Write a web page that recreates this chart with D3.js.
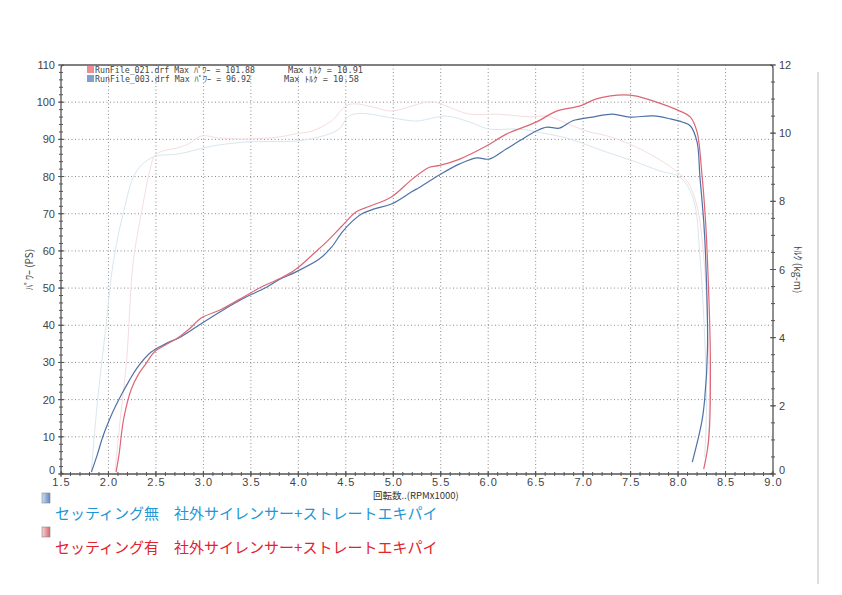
<!DOCTYPE html>
<html><head><meta charset="utf-8">
<script src="https://cdn.jsdelivr.net/npm/d3@7/dist/d3.min.js"></script>
<style>body{margin:0;background:#fff}svg{display:block}</style>
</head><body><svg id="c" width="842" height="595"></svg>
<script>
// ---- data ----
const xTicks = [1.5,2.0,2.5,3.0,3.5,4.0,4.5,5.0,5.5,6.0,6.5,7.0,7.5,8.0,8.5,9.0];
const powerTicks = [0,10,20,30,40,50,60,70,80,90,100,110];
const torqueTicks = [0,2,4,6,8,10,12];

// RunFile_021 (setting) power [rpm x1000, PS]
const redPower = [[2.08,0.5],[2.11,5],[2.16,14.8],[2.24,22.8],[2.32,27],[2.39,29.5],[2.49,33],[2.6,34.7],[2.74,36.8],[2.85,39],[2.98,42],[3.19,44.3],[3.45,48],[3.61,50.3],[3.8,52.5],[3.97,55],[4.18,59.7],[4.3,62.5],[4.46,66.7],[4.61,70.5],[4.75,72],[4.98,74.5],[5.2,79.3],[5.38,82.5],[5.49,83],[5.7,84.7],[5.98,88.2],[6.19,91.4],[6.51,94.7],[6.72,97.6],[6.97,99],[7.14,100.9],[7.49,101.9],[7.74,100.3],[8.02,97.6],[8.13,96],[8.2,92],[8.25,81],[8.29,67.8],[8.32,50.6],[8.34,31.7],[8.33,12],[8.31,6.7],[8.27,1.3]];
// RunFile_003 (no setting) power
const bluePower = [[1.82,0.5],[1.88,5],[1.94,10],[2.0,14],[2.07,18],[2.14,21.5],[2.21,24.7],[2.3,28.5],[2.45,32.8],[2.6,35],[2.77,37],[2.98,40.5],[3.2,44],[3.45,47.6],[3.65,50],[3.8,52.3],[3.97,54.3],[4.22,57.8],[4.35,61],[4.46,65],[4.57,68],[4.67,70],[4.8,71.3],[4.98,72.6],[5.2,76],[5.27,77],[5.49,80.5],[5.7,83.4],[5.88,85],[6.01,84.7],[6.19,87.4],[6.33,89.6],[6.51,92.3],[6.62,93.3],[6.75,93],[6.89,95],[7.1,96],[7.31,96.8],[7.49,96],[7.74,96.3],[7.92,95.5],[8.05,94.6],[8.13,93.6],[8.2,89.3],[8.23,80],[8.27,68],[8.29,58.6],[8.31,33.6],[8.28,20],[8.25,14],[8.15,3.2]];
// torque [rpm x1000, kg-m]
const redTorque = [[2.07,0.1],[2.12,1.5],[2.19,3.3],[2.26,6.2],[2.35,7.7],[2.44,8.95],[2.49,9.35],[2.6,9.5],[2.7,9.55],[2.84,9.68],[2.98,9.92],[3.16,9.86],[3.45,9.83],[3.8,9.89],[3.97,9.98],[4.14,10.06],[4.35,10.36],[4.5,10.8],[4.6,10.86],[4.78,10.77],[4.98,10.65],[5.2,10.8],[5.35,10.91],[5.45,10.9],[5.8,10.56],[6.09,10.56],[6.44,10.48],[6.62,10.5],[6.79,10.33],[7.04,10.06],[7.25,9.92],[7.49,9.68],[7.74,9.33],[7.95,8.95],[8.1,8.57],[8.2,7.86],[8.27,6.4],[8.31,4.5],[8.33,2.5],[8.32,0.8]];
const blueTorque = [[1.82,0.1],[1.89,2.3],[1.97,4.25],[2.05,6.2],[2.16,7.7],[2.29,8.86],[2.47,9.3],[2.74,9.39],[3.09,9.62],[3.45,9.74],[3.97,9.77],[4.22,9.89],[4.43,10.12],[4.53,10.5],[4.67,10.58],[4.98,10.45],[5.2,10.36],[5.27,10.36],[5.56,10.5],[5.8,10.33],[6.01,10.12],[6.33,10.12],[6.62,9.98],[6.86,9.83],[7.21,9.48],[7.53,9.18],[7.81,8.89],[8.02,8.71],[8.16,8.07],[8.23,6.4],[8.28,4],[8.3,2],[8.28,0.5]];

const legendTop = [
  {file:"RunFile_021.drf Max ﾊﾟﾜｰ = 101.88", torque:"Max ﾄﾙｸ = 10.91", color:"#f08a94"},
  {file:"RunFile_003.drf Max ﾊﾟﾜｰ = 96.92", torque:"Max ﾄﾙｸ = 10.58", color:"#7f9fcf"}
];
const legendBottom = [
  {label:"セッティング無　社外サイレンサー+ストレートエキパイ", color:"#1f97d4", icon:["#cfe0f0","#5c86bf"]},
  {label:"セッティング有　社外サイレンサー+ストレートエキパイ", color:"#e2232c", icon:["#f7d6d8","#d8646e"]}
];

// ---- drawing ----
const svg = d3.select("#c");
const x = d3.scaleLinear().domain([1.5,9]).range([61,773]);
const yP = d3.scaleLinear().domain([0,110]).range([474,65]);
const yT = d3.scaleLinear().domain([0,12]).range([474,65]);
const axisCol = "#555";
const font = "'Liberation Sans', Arial, sans-serif";

// grid
const g = svg.append("g");
g.selectAll(".gv").data(xTicks.filter(v=>v>1.5&&v<9)).join("line")
  .attr("x1",d=>x(d)).attr("x2",d=>x(d)).attr("y1",yP(110)).attr("y2",yP(0))
  .attr("stroke","#8a8a8a").attr("stroke-width",1).attr("stroke-dasharray","1,2.5");
g.selectAll(".gh").data(powerTicks.filter(v=>v>0&&v<110)).join("line")
  .attr("x1",x(1.5)).attr("x2",x(9)).attr("y1",d=>yP(d)).attr("y2",d=>yP(d))
  .attr("stroke","#8a8a8a").attr("stroke-width",1).attr("stroke-dasharray","1,2.5");

// torque curves (pale)
const line = (ys)=>d3.line().x(d=>x(d[0])).y(d=>ys(d[1])).curve(d3.curveCatmullRom.alpha(0.5));
svg.append("path").datum(blueTorque).attr("d",line(yT)).attr("fill","none").attr("stroke","#d9e6ee").attr("stroke-width",1);
svg.append("path").datum(redTorque).attr("d",line(yT)).attr("fill","none").attr("stroke","#f5dde1").attr("stroke-width",1);
// power curves
svg.append("path").datum(bluePower).attr("d",line(yP)).attr("fill","none").attr("stroke","#4f72a6").attr("stroke-width",1.2);
svg.append("path").datum(redPower).attr("d",line(yP)).attr("fill","none").attr("stroke","#dc6675").attr("stroke-width",1.2);

// frame
svg.append("rect").attr("x",x(1.5)).attr("y",yP(110)).attr("width",x(9)-x(1.5)).attr("height",yP(0)-yP(110))
  .attr("rx",3).attr("fill","none").attr("stroke",axisCol).attr("stroke-width",1.3);

// tick marks
const tk = svg.append("g").attr("stroke",axisCol).attr("stroke-width",1);
const minorX = d3.range(15,91).map(v=>v/10);
tk.selectAll(".mx").data(minorX).join("line")
  .attr("x1",d=>x(d)).attr("x2",d=>x(d)).attr("y1",yP(0)-2).attr("y2",yP(0)+2);
tk.selectAll(".Mx").data(xTicks).join("line")
  .attr("x1",d=>x(d)).attr("x2",d=>x(d)).attr("y1",yP(0)-3).attr("y2",yP(0)+3);
const minorP = d3.range(0,111,2);
tk.selectAll(".mp").data(minorP).join("line")
  .attr("x1",x(1.5)-2).attr("x2",x(1.5)+2).attr("y1",d=>yP(d)).attr("y2",d=>yP(d));
tk.selectAll(".Mp").data(powerTicks).join("line")
  .attr("x1",x(1.5)-3).attr("x2",x(1.5)+3).attr("y1",d=>yP(d)).attr("y2",d=>yP(d));
const minorT = d3.range(0,12.01,0.5);
tk.selectAll(".mt").data(minorT).join("line")
  .attr("x1",x(9)-2).attr("x2",x(9)+2).attr("y1",d=>yT(d)).attr("y2",d=>yT(d));
tk.selectAll(".Mt").data(torqueTicks).join("line")
  .attr("x1",x(9)-3).attr("x2",x(9)+3).attr("y1",d=>yT(d)).attr("y2",d=>yT(d));

// tick labels via d3 axes
const ax = svg.append("g").attr("transform",`translate(0,${yP(0)})`)
  .call(d3.axisBottom(x).tickValues(xTicks).tickFormat(d3.format(".1f")).tickSize(0).tickPadding(4));
const al = svg.append("g").attr("transform",`translate(${x(1.5)},0)`)
  .call(d3.axisLeft(yP).tickValues(powerTicks).tickFormat(d3.format("d")).tickSize(0).tickPadding(6));
const ar = svg.append("g").attr("transform",`translate(${x(9)},0)`)
  .call(d3.axisRight(yT).tickValues(torqueTicks).tickFormat(d3.format("d")).tickSize(0).tickPadding(6));
[ax,al,ar].forEach(a=>{a.select(".domain").remove();
  a.selectAll("text").attr("font-family",font).attr("font-size",11).attr("fill","#444");});
ax.selectAll("text").attr("letter-spacing","1px");
// lift the zero labels so they sit just above the x labels
al.selectAll(".tick").filter(d=>d===0).select("text").attr("dy","-0.05em");
ar.selectAll(".tick").filter(d=>d===0).select("text").attr("dy","-0.05em");

// axis titles
svg.append("text").attr("x",373).attr("y",499).attr("font-family","'Noto Sans CJK JP', sans-serif")
  .attr("font-size",9.5).attr("fill","#333").text("回転数..(RPMx1000)");
svg.append("text").attr("transform",`translate(33,${(yP(0)+yP(110))/2}) rotate(-90)`).attr("text-anchor","middle")
  .attr("font-family","'Noto Sans CJK JP', sans-serif").attr("font-size",10).attr("fill","#444").text("ﾊﾟﾜｰ (PS)");
svg.append("text").attr("transform",`translate(794,${(yP(0)+yP(110))/2}) rotate(90)`).attr("text-anchor","middle")
  .attr("font-family","'Noto Sans CJK JP', sans-serif").attr("font-size",10).attr("fill","#444").text("ﾄﾙｸ (kg-m)");

// top legend
const lt = svg.append("g");
legendTop.forEach((d,i)=>{
  const yy = 73 + i*9;
  lt.append("rect").attr("x",87).attr("y",yy-7).attr("width",7).attr("height",7).attr("fill",d.color);
  lt.append("text").attr("x",95).attr("y",yy).attr("font-family","'DejaVu Sans Mono','Noto Sans CJK JP',monospace")
    .attr("font-size",8.5).attr("fill","#444").attr("textLength", i===0?160:156).attr("lengthAdjust","spacingAndGlyphs").text(d.file);
  lt.append("text").attr("x",i===0?288:284).attr("y",yy).attr("font-family","'DejaVu Sans Mono','Noto Sans CJK JP',monospace")
    .attr("font-size",8.5).attr("fill","#444").attr("textLength",75).attr("lengthAdjust","spacingAndGlyphs").text(d.torque);
});

// bottom legend
const defs = svg.append("defs");
legendBottom.forEach((d,i)=>{
  const gid = "ig"+i;
  const gr = defs.append("linearGradient").attr("id",gid).attr("x1",0).attr("x2",1);
  gr.append("stop").attr("offset","0").attr("stop-color",d.icon[0]);
  gr.append("stop").attr("offset","1").attr("stop-color",d.icon[1]);
  const top = 493 + i*34;
  svg.append("rect").attr("x",42).attr("y",top).attr("width",8).attr("height",10)
    .attr("fill",`url(#${gid})`).attr("stroke","#888").attr("stroke-width",0.6);
  svg.append("text").attr("x",55).attr("y",top+26).attr("font-family","'Noto Sans CJK JP', sans-serif")
    .attr("font-size",15).attr("fill",d.color).text(d.label);
});

// page edge line on the right
svg.append("line").attr("x1",818).attr("x2",818).attr("y1",72).attr("y2",584).attr("stroke","#c8c8c8").attr("stroke-width",1.2);
</script></body></html>
